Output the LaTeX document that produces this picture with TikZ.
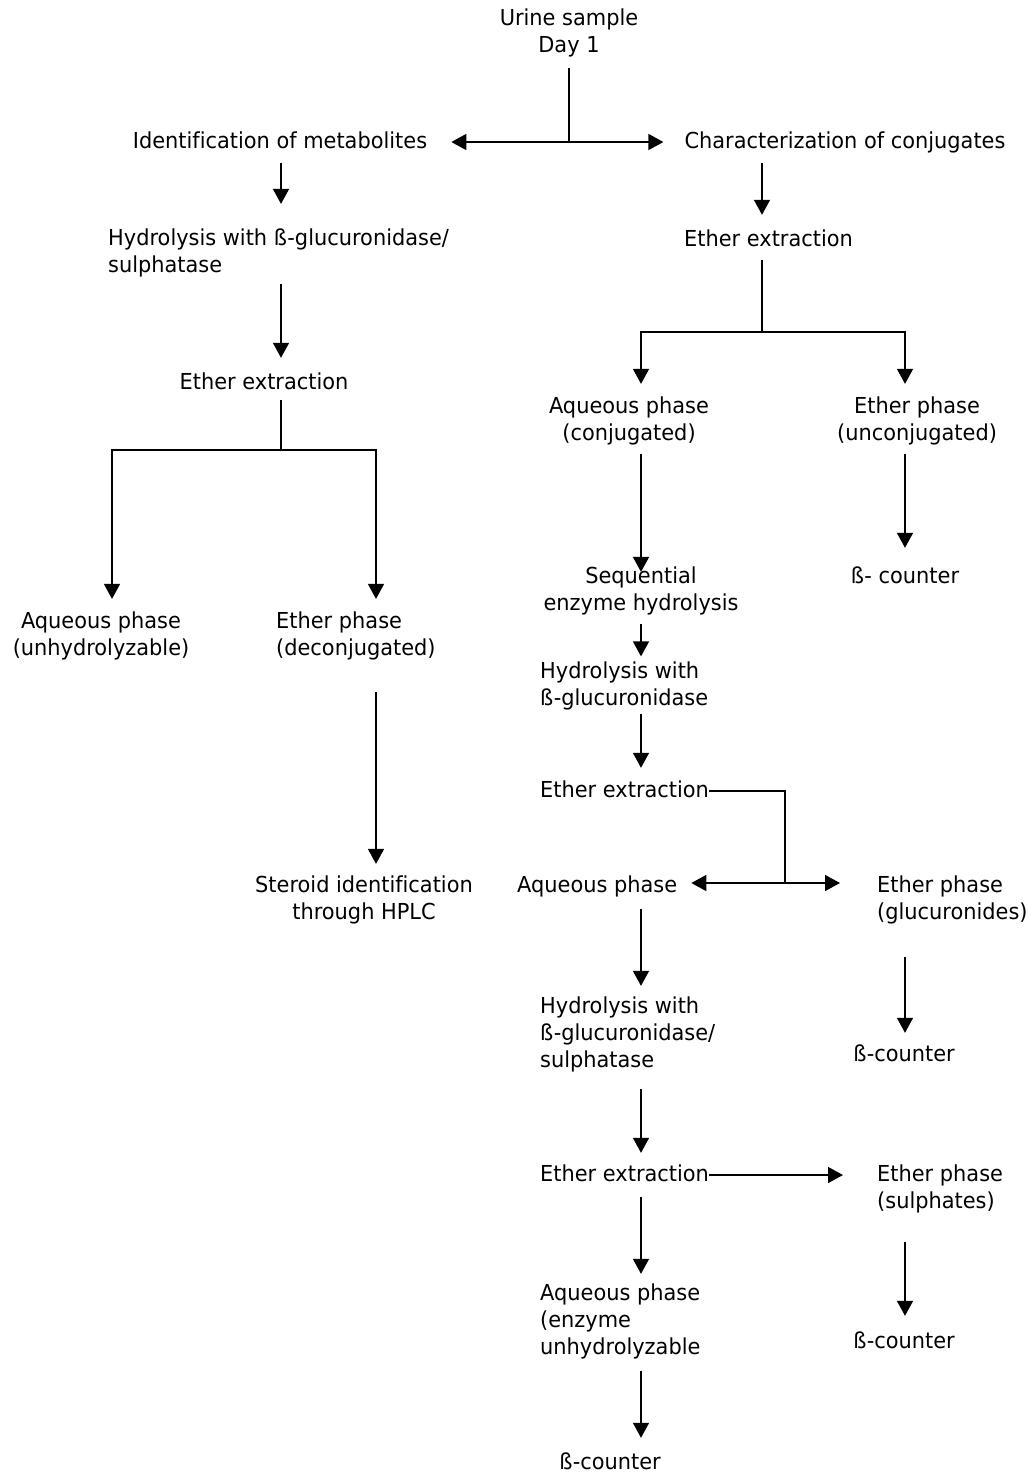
\documentclass[tikz,border=0pt]{standalone}
\usepackage{fontspec}
\setmainfont{DejaVu Sans}[FakeStretch=0.95,Ligatures=NoCommon]
\usetikzlibrary{arrows.meta}
\begin{document}
\begin{tikzpicture}[x=1pt,y=-1pt,
  lbl/.style={inner sep=0pt, font=\fontsize{22}{27}\selectfont, yshift=-1.5pt,
    execute at begin node=\strut, execute at end node=\strut},
  lc/.style={lbl, align=center, anchor=center},
  ll/.style={lbl, align=left, anchor=west},
  conn/.style={line width=1.5pt, black},
  arr/.style={conn, -{Triangle[length=15pt,width=16pt]}}]
\useasboundingbox (0,0) rectangle (1031,1475);
% column coordinates
\coordinate (cL) at (281,0);
\coordinate (cLL) at (112,0);
\coordinate (cLR) at (376,0);
\coordinate (cR) at (762,0);
\coordinate (cRL) at (641,0);
\coordinate (cRR) at (905,0);
\coordinate (j1) at (569,142);
\coordinate (j2) at (281,450);
\coordinate (j3) at (762,332);
\coordinate (j4) at (785,883);
% nodes
\node[lc] (urine) at (569,33) {Urine sample\\Day 1};
\node[lc] (idm) at (280,142) {Identification of metabolites};
\node[lc] (chc) at (845,142) {Characterization of conjugates};
\node[ll] (hyd1) at (108,253.5) {Hydrolysis with ß-glucuronidase/\\sulphatase};
\node[lc] (eth1) at (264,383) {Ether extraction};
\node[lc] (aq1) at (101,636.5) {Aqueous phase\\(unhydrolyzable)};
\node[ll] (ep1) at (276,636.5) {Ether phase\\(deconjugated)};
\node[lc] (ster) at (364,900.5) {Steroid identification\\through HPLC};
\node[lc] (eth2) at (768.5,240) {Ether extraction};
\node[lc] (aq2) at (629,421.5) {Aqueous phase\\(conjugated)};
\node[lc] (ep2) at (917,421.5) {Ether phase\\(unconjugated)};
\node[lc] (seq) at (641,591.5) {Sequential\\enzyme hydrolysis};
\node[lc] (bc1) at (905,577) {ß- counter};
\node[ll] (hyd2) at (540,686) {Hydrolysis with\\ß-glucuronidase};
\node[ll] (eth3) at (540,791) {Ether extraction};
\node[ll] (aq3) at (517,886) {Aqueous phase};
\node[ll] (ep3) at (877,900.5) {Ether phase\\(glucuronides)};
\node[lc] (bc2) at (904,1055) {ß-counter};
\node[ll] (hyd3) at (540,1035) {Hydrolysis with\\ß-glucuronidase/\\sulphatase};
\node[ll] (eth4) at (540,1175) {Ether extraction};
\node[ll] (ep4) at (877,1189) {Ether phase\\(sulphates)};
\node[lc] (bc3) at (904,1342) {ß-counter};
\node[ll] (aq4) at (540,1322) {Aqueous phase\\(enzyme\\unhydrolyzable};
\node[lc] (bc4) at (610,1463) {ß-counter};
% connectors: top split
\draw[conn] ([yshift=-7pt]urine.south) -- (j1);
\draw[arr] (j1) -- ([xshift=24pt]idm.east |- j1);
\draw[arr] (j1) -- ([xshift=-21pt]chc.west |- j1);
% left branch
\draw[arr] ([yshift=-6pt]idm.south -| cL) -- ([yshift=25pt]hyd1.north -| cL);
\draw[arr] ([yshift=-3pt]hyd1.south -| cL) -- ([yshift=13pt]eth1.north -| cL);
\draw[conn] ([yshift=-2pt]eth1.south -| cL) -- (j2);
\draw[arr] (j2) -| ([yshift=13pt]aq1.north -| cLL);
\draw[arr] (j2) -| ([yshift=13pt]ep1.north -| cLR);
\draw[arr] ([yshift=-28pt]ep1.south -| cLR) -- ([yshift=12pt]ster.north -| cLR);
% right branch
\draw[arr] ([yshift=-6pt]chc.south -| cR) -- ([yshift=13pt]eth2.north -| cR);
\draw[conn] ([yshift=-5pt]eth2.south -| cR) -- (j3);
\draw[arr] (j3) -| ([yshift=13pt]aq2.north -| cRL);
\draw[arr] (j3) -| ([yshift=13pt]ep2.north -| cRR);
\draw[arr] ([yshift=-5pt]aq2.south -| cRL) -- ([yshift=-5pt]seq.north -| cRL);
\draw[arr] ([yshift=-5pt]ep2.south -| cRR) -- ([yshift=17pt]bc1.north -| cRR);
\draw[arr] ([yshift=-5pt]seq.south -| cRL) -- ([yshift=5pt]hyd2.north -| cRL);
\draw[arr] ([yshift=0pt]hyd2.south -| cRL) -- ([yshift=11pt]eth3.north -| cRL);
\draw[conn] ([yshift=1.5pt]eth3.east) -| (j4);
\draw[arr] (j4) -- ([xshift=14pt]aq3.east |- j4);
\draw[arr] (j4) -- ([xshift=-37pt]ep3.west |- j4);
\draw[arr] ([yshift=-29pt]ep3.south -| cRR) -- ([yshift=10pt]bc2.north -| cRR);
\draw[arr] ([yshift=-8pt]aq3.south -| cRL) -- ([yshift=11pt]hyd3.north -| cRL);
\draw[arr] ([yshift=-13pt]hyd3.south -| cRL) -- ([yshift=10pt]eth4.north -| cRL);
\draw[arr] ([yshift=1.5pt]eth4.east) -- ([xshift=-34pt,yshift=1.5pt]ep4.west |- eth4.east);
\draw[arr] ([yshift=-25pt]ep4.south -| cRR) -- ([yshift=14pt]bc3.north -| cRR);
\draw[arr] ([yshift=-7pt]eth4.south -| cRL) -- ([yshift=10pt]aq4.north -| cRL);
\draw[arr] ([yshift=-8pt]aq4.south -| cRL) -- ([yshift=13pt]bc4.north -| cRL);
\end{tikzpicture}
\end{document}
